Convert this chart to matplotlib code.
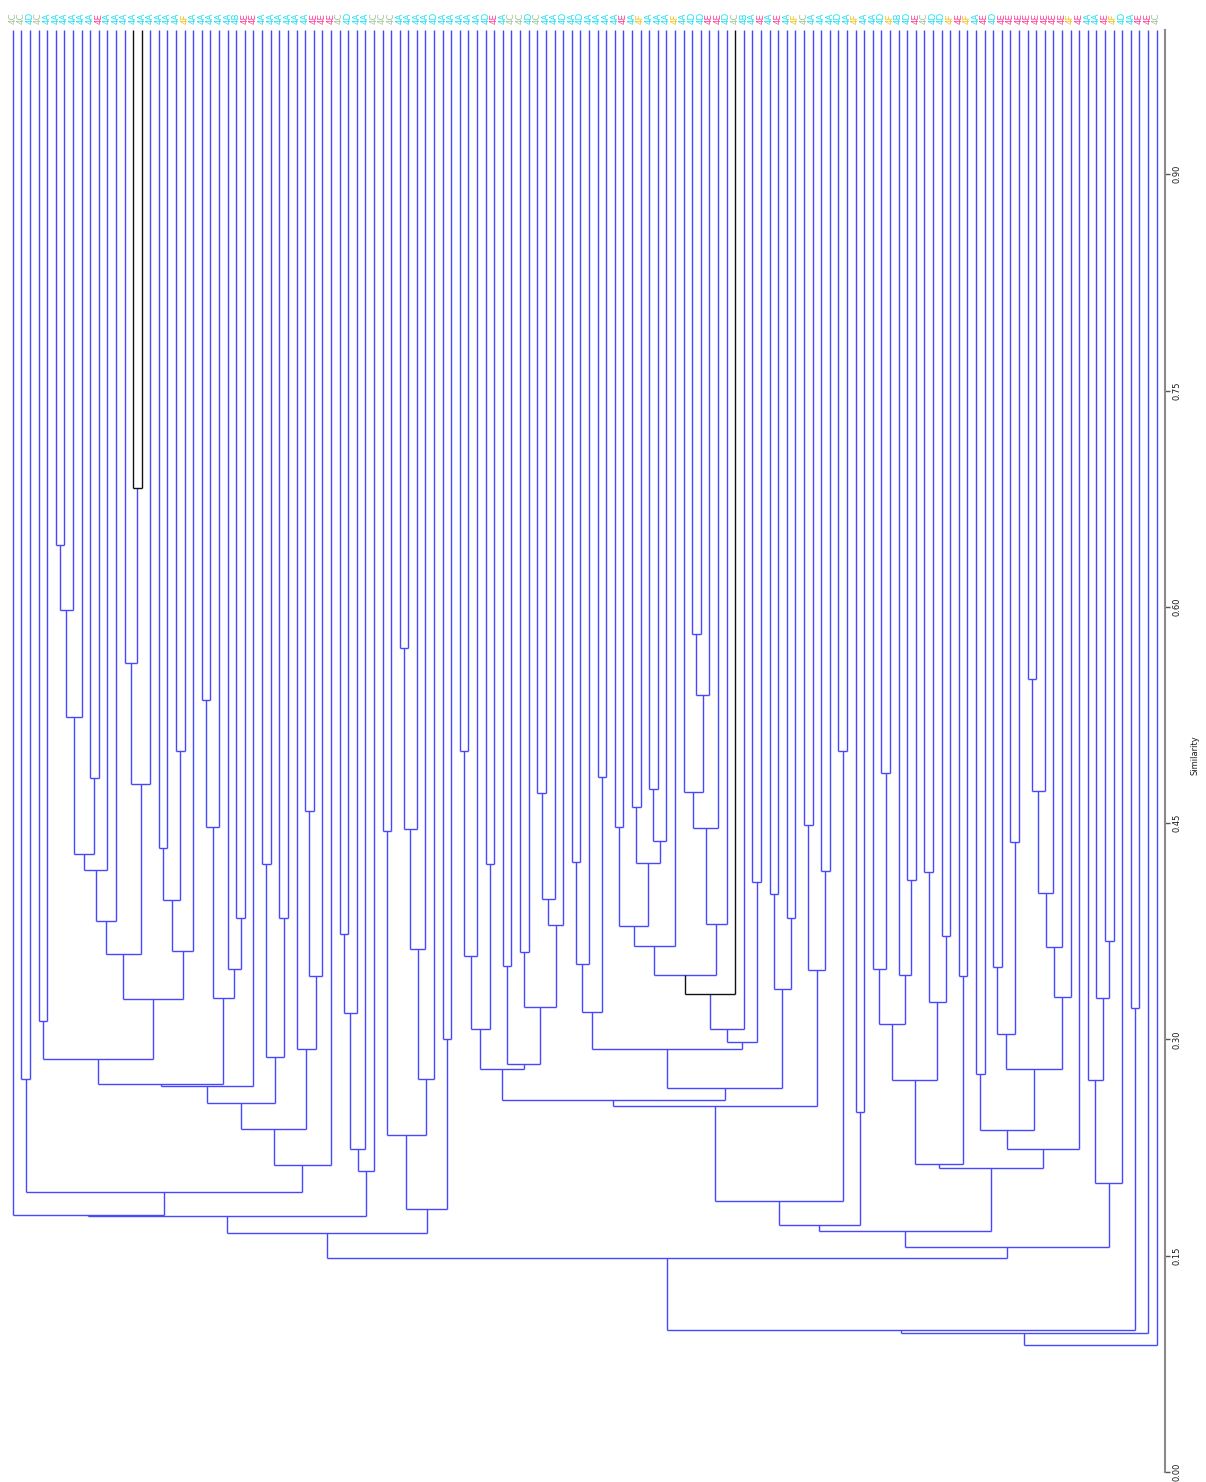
import matplotlib
matplotlib.use("Agg")
import matplotlib.pyplot as plt
from matplotlib.collections import LineCollection

# leaf labels, left to right
leaf_labels = [
    "4C", "4C", "4D", "4C", "4A", "4A", "4A", "4A", "4A", "4A",
    "4E", "4A", "4A", "4A", "4A", "4A", "4A", "4A", "4A", "4A",
    "4F", "4A", "4A", "4A", "4A", "4A", "4B", "4E", "4E", "4A",
    "4A", "4A", "4A", "4A", "4A", "4E", "4E", "4E", "4C", "4D",
    "4A", "4A", "4C", "4C", "4C", "4A", "4A", "4A", "4A", "4D",
    "4A", "4A", "4A", "4A", "4A", "4D", "4E", "4A", "4C", "4C",
    "4D", "4C", "4A", "4A", "4D", "4A", "4D", "4A", "4A", "4A",
    "4A", "4E", "4A", "4F", "4A", "4A", "4A", "4F", "4A", "4D",
    "4D", "4E", "4E", "4D", "4C", "4B", "4A", "4E", "4A", "4E",
    "4A", "4F", "4C", "4A", "4A", "4A", "4D", "4A", "4F", "4A",
    "4A", "4D", "4F", "4B", "4D", "4E", "4C", "4D", "4D", "4F",
    "4E", "4F", "4A", "4E", "4D", "4E", "4E", "4E", "4E", "4E",
    "4E", "4E", "4E", "4F", "4E", "4A", "4A", "4E", "4F", "4D",
    "4A", "4E", "4E", "4C",
]

group_colors = {
    "4A": "#1fe0ee", "4B": "#1fe0ee", "4C": "#9fc296",
    "4D": "#1fe0ee", "4E": "#ff3a92", "4F": "#f2c018",
}

# merges in order: (left, right, similarity); ints are leaves,
# "cK" is the K-th merge (1-based)
merges = [
    (14, 15, 0.6825), (5, 6, 0.643), ("c2", 7, 0.598), ("c3", 8, 0.5238),
    (9, 10, 0.4815), ("c4", "c5", 0.4289), ("c6", 11, 0.4178), ("c7", 12, 0.3818),
    (13, "c1", 0.5612), ("c9", 16, 0.4774), ("c8", "c10", 0.3589), (19, 20, 0.5002),
    (17, 18, 0.433), ("c13", "c12", 0.397), ("c14", 21, 0.361), ("c11", "c15", 0.3277),
    (3, 4, 0.3125), ("c17", "c16", 0.2862), (1, 2, 0.2723), (22, 23, 0.5356),
    ("c20", 24, 0.4476), (26, 27, 0.3845), (25, "c22", 0.3485), ("c21", "c23", 0.3284),
    ("c18", "c24", 0.2688), ("c25", 28, 0.2674), (29, 30, 0.4213), (31, 32, 0.3845),
    ("c27", "c28", 0.2875), ("c26", "c29", 0.2557), (34, 35, 0.4587), ("c31", 36, 0.3437),
    (33, "c32", 0.2931), ("c30", "c33", 0.2377), ("c34", 37, 0.2127), ("c19", "c35", 0.194),
    (0, "c36", 0.1781), (38, 39, 0.3728), ("c38", 40, 0.318), ("c39", 41, 0.2238),
    ("c40", 42, 0.2086), ("c37", "c41", 0.1774), (43, 44, 0.4448), (45, 46, 0.5716),
    ("c44", 47, 0.4462), ("c45", 48, 0.3624), ("c46", 49, 0.2723), ("c43", "c47", 0.2335),
    (50, 51, 0.3), ("c48", "c49", 0.1822), ("c42", "c50", 0.1656), (52, 53, 0.5002),
    ("c52", 54, 0.3575), (55, 56, 0.4213), ("c53", "c54", 0.3069), (61, 62, 0.4711),
    ("c56", 63, 0.3977), ("c57", 64, 0.379), (59, 60, 0.3603), ("c59", "c58", 0.3222),
    (57, 58, 0.3506), ("c61", "c60", 0.2827), ("c55", "c62", 0.2792), (65, 66, 0.4233),
    ("c64", 67, 0.352), (68, 69, 0.4822), ("c65", "c66", 0.3187), (70, 71, 0.4476),
    (72, 73, 0.4614), (74, 75, 0.4739), ("c70", 76, 0.4379), ("c69", "c71", 0.4226),
    ("c68", "c72", 0.3783), ("c73", 77, 0.3651), (79, 80, 0.5809), ("c75", 81, 0.539),
    (78, "c76", 0.4718), ("c77", 82, 0.4469), ("c78", 83, 0.3797), ("c74", "c79", 0.345),
    ("c80", 84, 0.3312), ("c81", 85, 0.3069), (86, 87, 0.4095), ("c82", "c83", 0.2979),
    ("c67", "c84", 0.2931), (88, 89, 0.4005), (90, 91, 0.3845), ("c86", "c87", 0.3347),
    ("c85", "c88", 0.2663), ("c63", "c89", 0.258), (92, 93, 0.4486), (94, 95, 0.4171),
    ("c91", "c92", 0.3478), ("c90", "c93", 0.2536), (96, 97, 0.5002), ("c94", "c95", 0.1878),
    (98, 99, 0.2494), ("c96", "c97", 0.1711), (101, 102, 0.485), (100, "c99", 0.3485),
    (104, 105, 0.4102), (103, "c101", 0.345), ("c100", "c102", 0.3104), (106, 107, 0.4164),
    (108, 109, 0.3714), ("c104", "c105", 0.3256), ("c103", "c106", 0.2716), (110, 111, 0.3437),
    ("c107", "c108", 0.2134), (112, 113, 0.2758), (114, 115, 0.3499), (116, 117, 0.4372),
    ("c111", "c112", 0.3035), (118, 119, 0.5501), ("c114", 120, 0.4725), ("c115", 121, 0.4012),
    ("c116", 122, 0.3644), ("c117", 123, 0.3295), ("c113", "c118", 0.2792), ("c110", "c119", 0.237),
    ("c120", 124, 0.2238), ("c109", "c121", 0.2106), ("c98", "c122", 0.167), (127, 128, 0.3682),
    (126, "c124", 0.3284), (125, "c125", 0.2716), ("c126", 129, 0.2002), ("c123", "c127", 0.1559),
    ("c51", "c128", 0.1483), (130, 131, 0.3215), ("c129", "c130", 0.0984), ("c131", 132, 0.0963),
    ("c132", 133, 0.0882),
]

black_merges = {"c1", "c81"}

yticks = [0.0, 0.15, 0.30, 0.45, 0.60, 0.75, 0.90]

W, H = 1206, 1482
fig = plt.figure(figsize=(W / 100, H / 100), dpi=100)
ax = fig.add_axes([0, 10 / H, 1165 / W, 1442 / H])

# node position = (x, height); leaves sit at similarity 1
pos = {i: (float(i), 1.0) for i in range(len(leaf_labels))}
blue_segs, black_segs = [], []
for k, (a, b, s) in enumerate(merges, start=1):
    name = f"c{k}"
    xa, ha = pos[a]
    xb, hb = pos[b]
    segs = black_segs if name in black_merges else blue_segs
    segs.append([(xa, ha), (xa, s)])
    segs.append([(xb, hb), (xb, s)])
    segs.append([(xa, s), (xb, s)])
    pos[name] = ((xa + xb) / 2, s)

ax.add_collection(LineCollection(blue_segs, colors="#4747ff", linewidths=1.0))
ax.add_collection(LineCollection(black_segs, colors="#111111", linewidths=1.0))

for i, lab in enumerate(leaf_labels):
    ax.text(i, 1.004, lab, rotation=90, ha="center", va="bottom",
            fontsize=6.3, color=group_colors[lab], clip_on=False)

ax.set_xlim(-12.7 / 8.6, -12.7 / 8.6 + 1165 / 8.6)
ax.set_ylim(0, 1)
ax.set_xticks([])
ax.set_yticks(yticks)
ax.set_yticklabels([f"{t:.2f}" for t in yticks], rotation=90, va="center", ha="left")
ax.yaxis.tick_right()
ax.tick_params(axis="y", direction="out", length=3.6, width=1.0, colors="#555555",
               labelcolor="#1a1a1a", labelsize=6, pad=2)
for side in ["top", "left", "bottom"]:
    ax.spines[side].set_visible(False)
ax.spines["right"].set_color("#8a8a8a")
ax.spines["right"].set_linewidth(1.5)

fig.text(1195 / W, 1 - 755 / H, "Similarity", rotation=90, ha="center", va="center",
         fontsize=6, color="#1a1a1a")

fig.savefig("out.png", dpi=100)
